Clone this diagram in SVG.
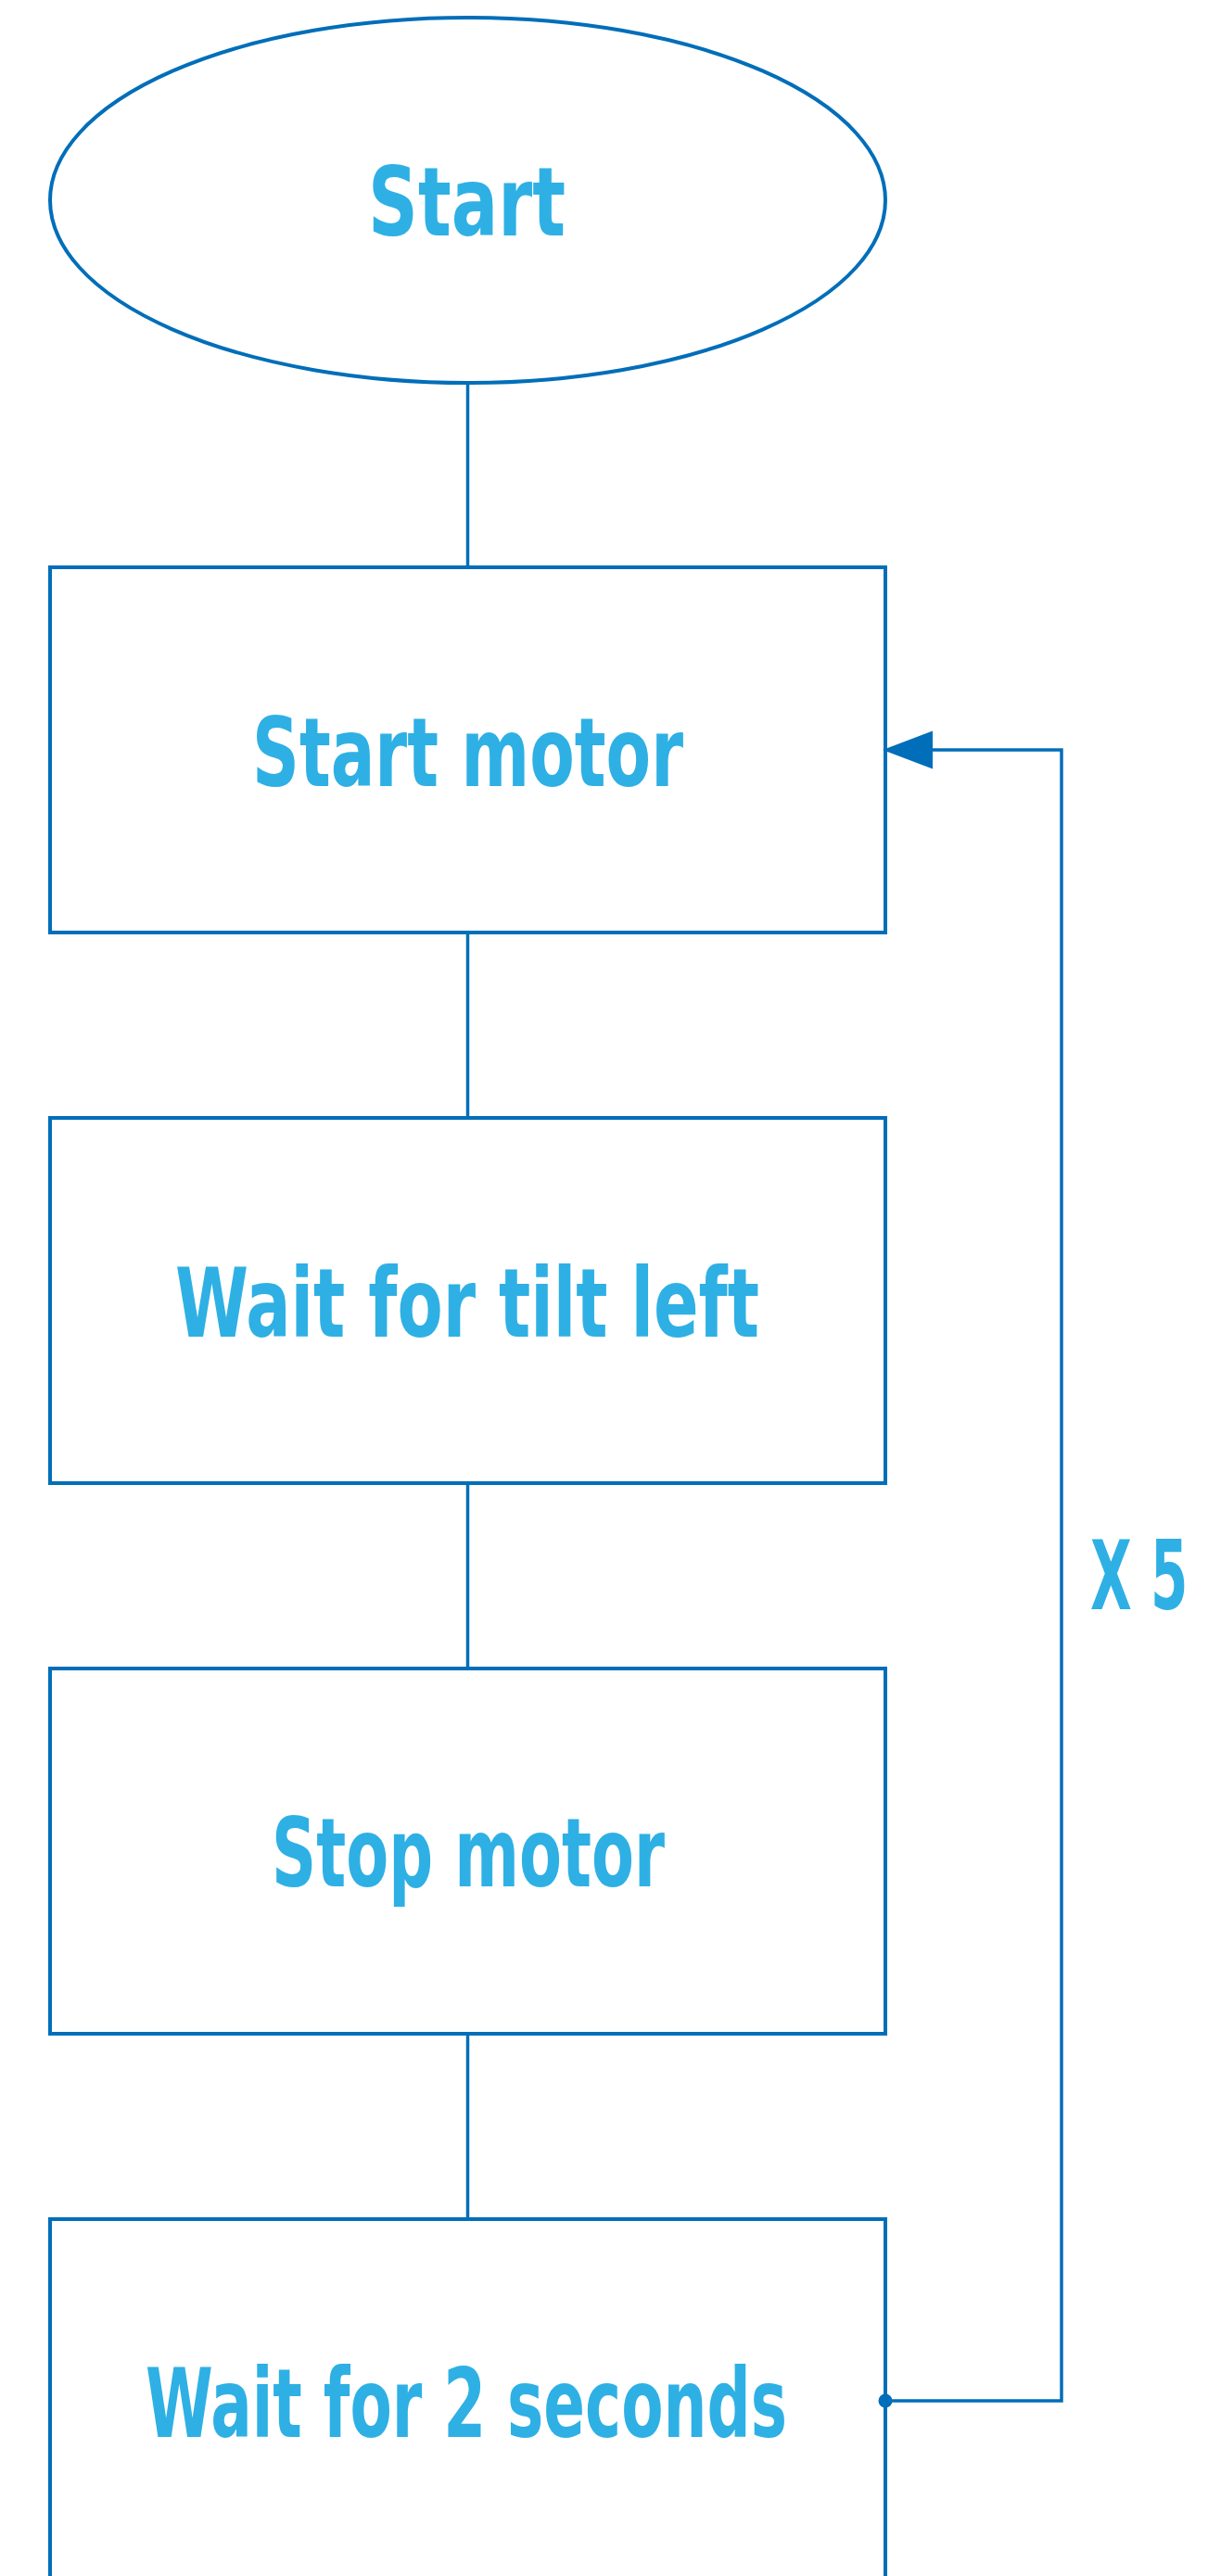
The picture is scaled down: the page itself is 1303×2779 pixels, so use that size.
<svg xmlns="http://www.w3.org/2000/svg" width="1303" height="2779" viewBox="0 0 1303 2779">
<style>
.shape{fill:#ffffff;stroke:#006EB9;stroke-width:4}
.conn{fill:none;stroke:#006EB9;stroke-width:3.5}
.lbl{font-family:"DejaVu Sans Condensed","DejaVu Sans",sans-serif;font-stretch:condensed;font-weight:bold;font-size:104px;fill:#2EB0E4}
</style>
<defs>
<marker id="arrow" markerUnits="userSpaceOnUse" markerWidth="54" markerHeight="41" viewBox="0 0 54 41" refX="0" refY="20.5" orient="auto" overflow="visible">
<path d="M0,0 L54,20.5 L0,41 z" fill="#006EB9"/>
</marker>
<marker id="dot" markerUnits="userSpaceOnUse" markerWidth="16" markerHeight="16" viewBox="-8 -8 16 16" refX="0" refY="0" overflow="visible">
<circle cx="0" cy="0" r="7.5" fill="#006EB9"/>
</marker>
</defs>
<rect width="1303" height="2779" fill="#ffffff"/>
<g id="start">
<ellipse class="shape" cx="504.5" cy="216" rx="450.5" ry="197"/>
<text class="lbl" x="397" y="254" textLength="213" lengthAdjust="spacingAndGlyphs">Start</text>
</g>
<g id="start-motor">
<rect class="shape" x="54" y="612" width="901" height="394"/>
<text class="lbl" x="272" y="848" textLength="465" lengthAdjust="spacingAndGlyphs">Start motor</text>
</g>
<g id="wait-tilt">
<rect class="shape" x="54" y="1206" width="901" height="394"/>
<text class="lbl" x="189" y="1442" textLength="630" lengthAdjust="spacingAndGlyphs">Wait for tilt left</text>
</g>
<g id="stop-motor">
<rect class="shape" x="54" y="1800" width="901" height="394"/>
<text class="lbl" x="293" y="2035" textLength="424" lengthAdjust="spacingAndGlyphs">Stop motor</text>
</g>
<g id="wait-2s">
<rect class="shape" x="54" y="2394" width="901" height="420"/>
<text class="lbl" x="157" y="2629" textLength="692" lengthAdjust="spacingAndGlyphs">Wait for 2 seconds</text>
</g>
<g id="connectors">
<line class="conn" x1="504.5" y1="413" x2="504.5" y2="612"/>
<line class="conn" x1="504.5" y1="1006" x2="504.5" y2="1206"/>
<line class="conn" x1="504.5" y1="1600" x2="504.5" y2="1800"/>
<line class="conn" x1="504.5" y1="2194" x2="504.5" y2="2394"/>
<path class="conn" d="M955,2590 L1145,2590 L1145,809 L1006,809" marker-start="url(#dot)" marker-end="url(#arrow)"/>
<text class="lbl" transform="translate(1176,1736) scale(0.62,1)" x="0" y="0">X 5</text>
</g>
</svg>
